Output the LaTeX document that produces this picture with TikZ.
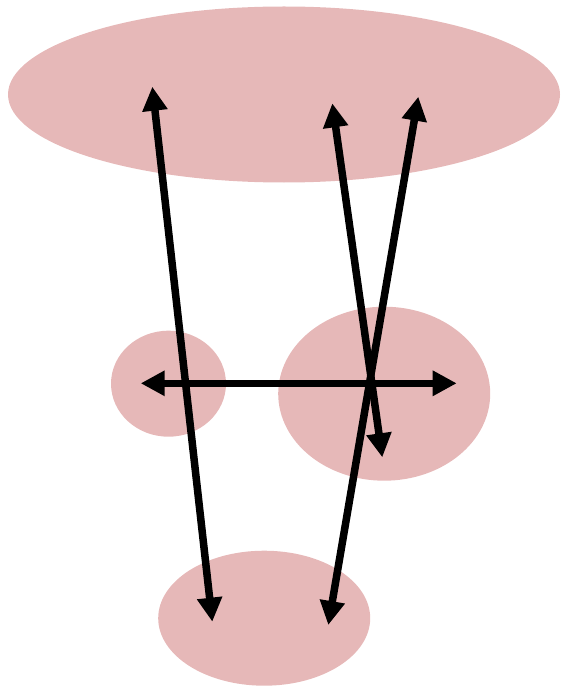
\documentclass[tikz,border=0pt]{standalone}
\usepackage{tikz}
\usetikzlibrary{shapes.geometric,arrows.meta}
\definecolor{blob}{RGB}{230,184,184}

\begin{document}
\begin{tikzpicture}[x=1pt,y=-1pt,
    region/.style={ellipse, fill=blob, inner sep=0pt, outer sep=0pt},
    link/.style={line width=7.5pt, {Triangle[length=24pt,width=24pt]}-{Triangle[length=24pt,width=24pt]}}]
      \useasboundingbox (0,0) rectangle (560,687);
      \node[name=up, region, minimum width=552, minimum height=176] at (284,94.5){};
      \node[name=left, region, minimum width=115, minimum height=106] at (168.5,383.7){};
      \node[name=right, region, minimum width=212, minimum height=174] at (384.2,393.7){};
      \node[name=down, region, minimum width=212, minimum height=135] at (264.2,618.2){};
      \coordinate (a1) at (152.3,86.7);
      \coordinate (a2) at (212.3,621.7);
      \coordinate (b1) at (332.3,103.3);
      \coordinate (b2) at (382.3,457.3);
      \coordinate (c1) at (418.3,96.7);
      \coordinate (c2) at (328.3,625);
      \coordinate (d1) at (140.7,383.3);
      \coordinate (d2) at (456.7,383.3);
      \draw[link] (a1) -- (a2);
      \draw[link] (b1) -- (b2);
      \draw[link] (c1) -- (c2);
      \draw[link] (d1) -- (d2);
   \end{tikzpicture}
\end{document}
